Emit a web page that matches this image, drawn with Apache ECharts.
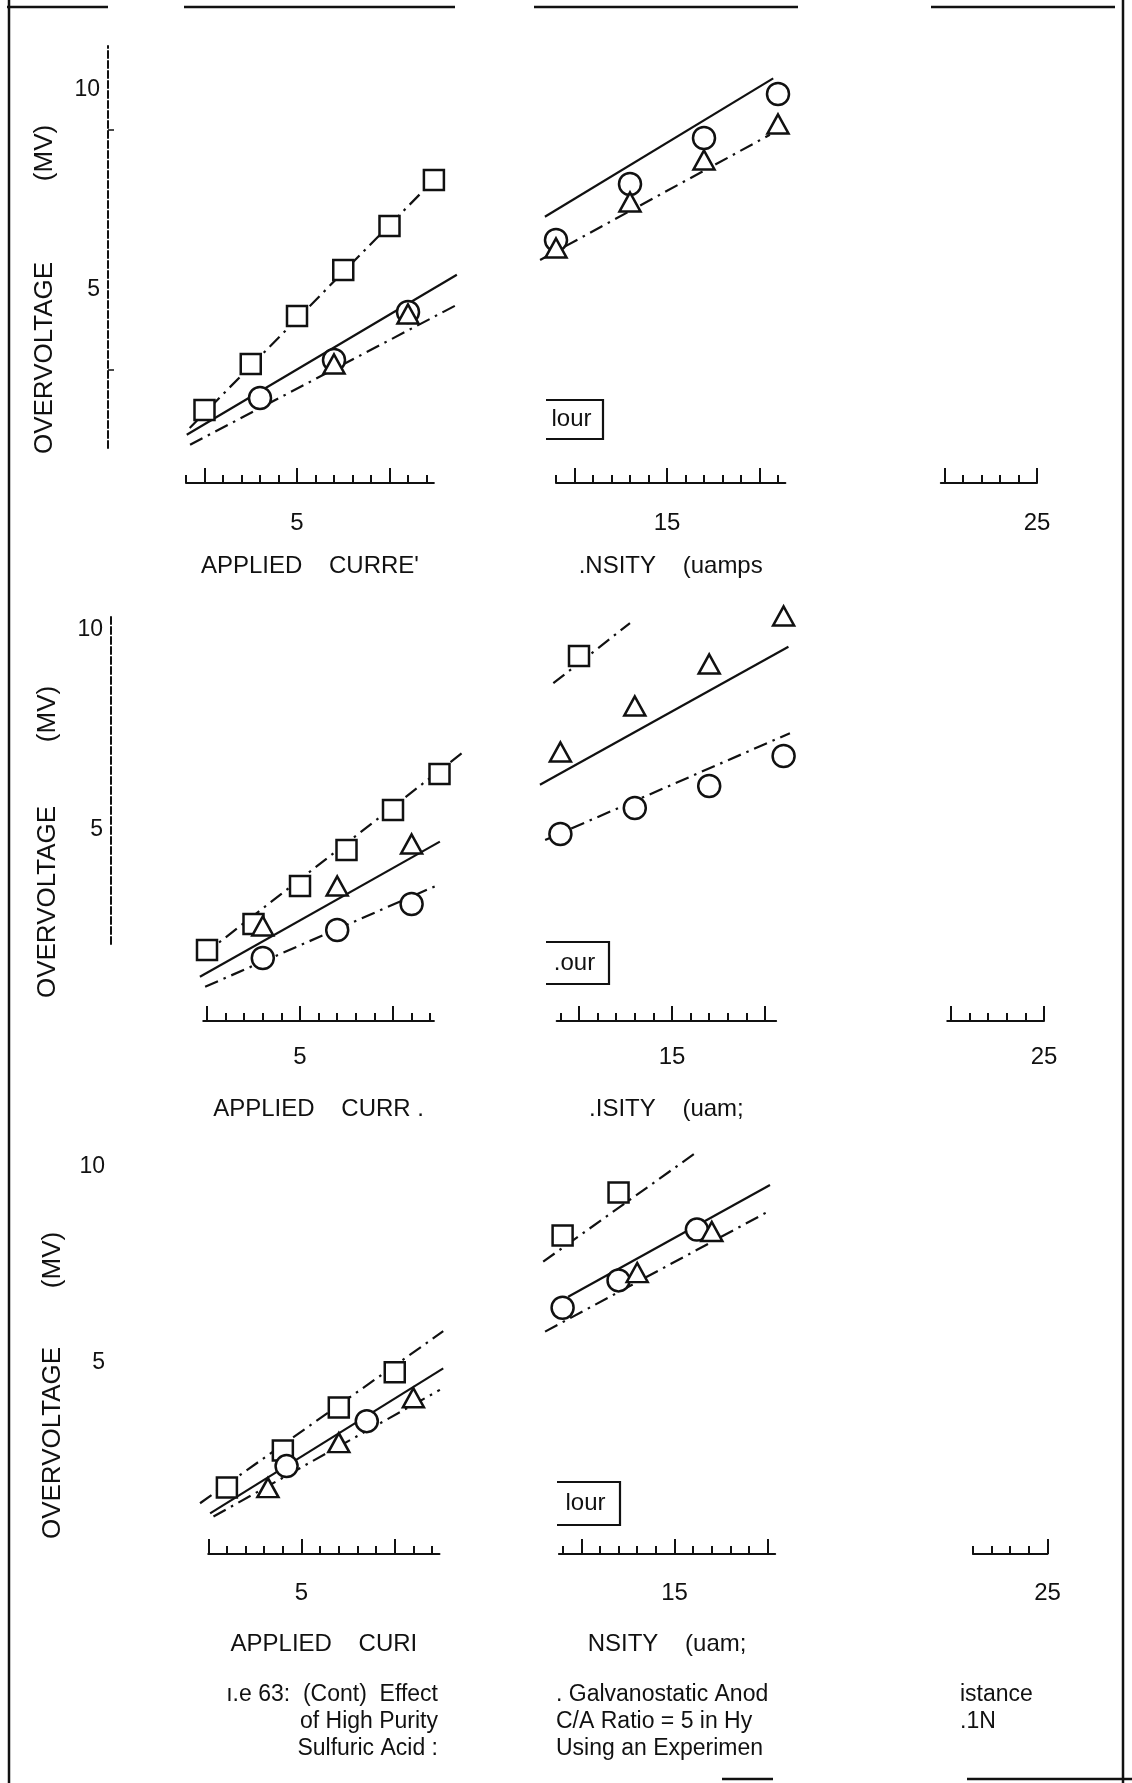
<!DOCTYPE html>
<html><head><meta charset="utf-8">
<script src="https://cdn.jsdelivr.net/npm/echarts@6/dist/echarts.min.js"></script>
<style>html,body{margin:0;padding:0;background:#fff}#c{width:1132px;height:1783px}</style>
</head><body><div id="c"></div>
<script>
// ---------------- DATA ----------------
// Panel 1
const p1SquareX = [2.5, 3.75, 5, 6.25, 7.5, 8.7];
const p1SquareY = [2.0, 3.15, 4.35, 5.5, 6.6, 7.75];
const p1CircleX = [4, 6, 8, 12, 14, 16, 18];
const p1CircleY = [2.3, 3.25, 4.45, 6.25, 7.65, 8.8, 9.9];
const p1TriangleX = [6, 8, 12, 14, 16, 18];
const p1TriangleY = [3.15, 4.4, 6.05, 7.2, 8.25, 9.15];
const p1SquareFit = [[[2.1, 1.55], [8.7, 7.75]]];
const p1SolidFit = [[[2.02, 1.38], [9.32, 5.38]], [[11.7, 6.83], [17.87, 10.29]]];
const p1DashFit = [[[2.11, 1.13], [9.32, 4.63]], [[11.57, 5.75], [17.78, 8.88]]];
// Panel 2
const p2SquareX = [2.5, 3.75, 5, 6.25, 7.5, 8.75, 12.5];
const p2SquareY = [2.0, 2.65, 3.6, 4.5, 5.5, 6.4, 9.35];
const p2CircleX = [4, 6, 8, 12, 14, 16, 18];
const p2CircleY = [1.8, 2.5, 3.15, 4.9, 5.55, 6.1, 6.85];
const p2TriangleX = [4, 6, 8, 12, 14, 16, 18];
const p2TriangleY = [2.6, 3.6, 4.65, 6.95, 8.1, 9.15, 10.35];
const p2SquareFit = [[[2.4, 1.88], [9.35, 6.92]], [[11.81, 8.67], [13.87, 10.17]]];
const p2SolidFit = [[[2.31, 1.33], [8.76, 4.71]], [[11.45, 6.13], [18.13, 9.58]]];
const p2DashFit = [[[2.45, 1.08], [8.72, 3.63]], [[11.59, 4.75], [18.17, 7.42]]];
// Panel 3
const p3SquareX = [3, 4.5, 6, 7.5, 12, 13.5];
const p3SquareY = [1.8, 2.75, 3.85, 4.75, 8.25, 9.35];
const p3CircleX = [4.6, 6.75, 12, 13.5, 15.6];
const p3CircleY = [2.35, 3.5, 6.4, 7.1, 8.4];
const p3TriangleX = [4.1, 6, 8, 14, 16];
const p3TriangleY = [1.8, 2.95, 4.1, 7.3, 8.35];
const p3SquareFit = [[[2.28, 1.4], [8.8, 5.8]], [[11.48, 7.58], [15.55, 10.35]]];
const p3SolidFit = [[[2.55, 1.14], [8.8, 4.85]], [[12.15, 6.68], [17.56, 9.54]]];
const p3DashFit = [[[2.64, 1.06], [8.71, 4.3]], [[11.53, 5.79], [17.51, 8.86]]];

// Tick labels and texts
const xLabelValues = [[5], [15], [25]];
const yLabelValues = [5, 10];
const leftAxisNames = ["APPLIED    CURRE'", 'APPLIED    CURR .', 'APPLIED    CURI'];
const midAxisNames = ['.NSITY    (uamps', '.ISITY    (uam;', 'NSITY    (uam;'];
const boxTexts = ['lour', '.our', 'lour'];
const captionLeft = ['ı.e 63:  (Cont)  Effect', 'of High Purity', 'Sulfuric Acid :'];
const captionMid = ['. Galvanostatic Anod', 'C/A Ratio = 5 in Hy', 'Using an Experimen'];
const captionRight = ['istance', '.1N'];

// ---------------- LAYOUT ----------------
const FONT = '"Liberation Sans", Arial, sans-serif';
const INK = '#111';
const panels = [
  { x0: 112, sx: 37, y0: 490, sy: 40, base: 483, axisX: 108, yMin: 1.05, yMax: 11.1, yTicks: [3, 9], yLine: true,
    strips: [[2.0, 8.7], [12.0, 18.2], [22.4, 25.0]], labelMargin: 28, nameGap: 71,
    sq: [p1SquareX, p1SquareY], ci: [p1CircleX, p1CircleY], tr: [p1TriangleX, p1TriangleY],
    fits: [[p1SquareFit, true], [p1SolidFit, false], [p1DashFit, true]],
    titleX: 45, overC: 358, mvC: 153, box: [546, 400, 603, 439] },
  { x0: 114, sx: 37.2, y0: 1030, sy: 40, base: 1021, axisX: 111, yMin: 2.15, yMax: 10.4, yTicks: [], yLine: true,
    strips: [[2.4, 8.6], [11.9, 17.8], [22.4, 25.0]], labelMargin: 24, nameGap: 76,
    sq: [p2SquareX, p2SquareY], ci: [p2CircleX, p2CircleY], tr: [p2TriangleX, p2TriangleY],
    fits: [[p2SquareFit, true], [p2SolidFit, false], [p2DashFit, true]],
    titleX: 48, overC: 902, mvC: 714, box: [546, 942, 609, 984] },
  { x0: 115, sx: 37.3, y0: 1558, sy: 39.1, base: 1554, axisX: 113, yMin: 4, yMax: 10.5, yTicks: [], yLine: false,
    strips: [[2.5, 8.7], [11.9, 17.7], [23.0, 25.0]], labelMargin: 27, nameGap: 78,
    sq: [p3SquareX, p3SquareY], ci: [p3CircleX, p3CircleY], tr: [p3TriangleX, p3TriangleY],
    fits: [[p3SquareFit, true], [p3SolidFit, false], [p3DashFit, true]],
    titleX: 53, overC: 1443, mvC: 1260, box: [557, 1482, 620, 1525] }
];

const grid = [], xAxis = [], yAxis = [], series = [], graphic = [];
const G = (o) => Object.assign({ containLabel: false, outerBoundsMode: 'none' }, o);
const DASHDOT = [14, 6, 2.5, 6];

panels.forEach((p, pi) => {
  // data grid (x 0..25, y 0..11)
  const gi = grid.length;
  grid.push(G({ left: p.x0, top: p.y0 - 11 * p.sy, width: 25 * p.sx, height: 11 * p.sy }));
  const xi = xAxis.length; xAxis.push({ gridIndex: gi, type: 'value', min: 0, max: 25, show: false });
  const yi = yAxis.length; yAxis.push({ gridIndex: gi, type: 'value', min: 0, max: 11, show: false });

  p.fits.forEach(([segs, dashed]) => segs.forEach(seg => series.push({
    type: 'line', xAxisIndex: xi, yAxisIndex: yi, data: seg, symbol: 'none', silent: true, z: 2,
    lineStyle: { color: INK, width: 2.2, type: dashed ? DASHDOT : 'solid' }
  })));
  const pts = (XY, sym, size, z) => series.push({
    type: 'scatter', xAxisIndex: xi, yAxisIndex: yi, z: z,
    data: XY[0].map((x, i) => [x, XY[1][i]]), symbol: sym, symbolSize: size,
    itemStyle: { color: '#fff', borderColor: INK, borderWidth: 2.5, opacity: 1 }
  });
  pts(p.sq, 'rect', 20, 5);
  pts(p.ci, 'circle', 22, 6);
  pts(p.tr, 'triangle', [21, 19], 7);

  // y axis grid
  const gy = grid.length;
  grid.push(G({ left: p.axisX, top: p.y0 - p.yMax * p.sy, width: 10, height: (p.yMax - p.yMin) * p.sy }));
  xAxis.push({ gridIndex: gy, type: 'value', show: false });
  yAxis.push({ gridIndex: gy, type: 'value', min: p.yMin, max: p.yMax, position: 'left',
    axisLine: { show: p.yLine, lineStyle: { color: INK, width: 2, type: [7, 3] } },
    axisTick: { show: p.yTicks.length > 0, inside: true, length: 6, customValues: p.yTicks, lineStyle: { color: INK, width: 1.5 } },
    axisLabel: { customValues: yLabelValues.filter(v => v >= p.yMin && v <= p.yMax), formatter: v => String(v), margin: 8,
      fontSize: 23, color: INK, fontFamily: FONT },
    splitLine: { show: false } });

  // x axis strips (surviving fragments of the axis)
  p.strips.forEach((s, si) => {
    const g = grid.length;
    grid.push(G({ left: p.x0 + s[0] * p.sx, width: (s[1] - s[0]) * p.sx, top: p.base - 20, height: 20 }));
    yAxis.push({ gridIndex: g, type: 'value', show: false });
    const minor = [], major = [];
    for (let k = Math.ceil(s[0] * 2 - 1e-9); k <= Math.floor(s[1] * 2 + 1e-9); k++) {
      const v = k / 2;
      (k % 5 === 0 ? major : minor).push(v);
    }
    const name = si === 0 ? leftAxisNames[pi] : (si === 1 ? midAxisNames[pi] : '');
    xAxis.push({ gridIndex: g, type: 'value', min: s[0], max: s[1], position: 'bottom', offset: 0,
      axisLine: { show: true, lineStyle: { color: INK, width: 2 } },
      axisTick: { show: true, inside: true, length: 8, customValues: minor, lineStyle: { color: INK, width: 2 } },
      axisLabel: { show: false }, splitLine: { show: false },
      name: name, nameLocation: 'middle', nameGap: p.nameGap,
      nameTextStyle: { fontSize: 24, color: INK, fontFamily: FONT } });
    xAxis.push({ gridIndex: g, type: 'value', min: s[0], max: s[1], position: 'bottom', offset: 0,
      axisLine: { show: false },
      axisTick: { show: true, inside: true, length: 15, customValues: major, lineStyle: { color: INK, width: 2 } },
      axisLabel: { customValues: xLabelValues[si], formatter: v => String(v), margin: p.labelMargin,
        fontSize: 24, color: INK, fontFamily: FONT },
      splitLine: { show: false } });
  });

  // y axis title
  graphic.push({ type: 'text', x: p.titleX, y: p.overC, rotation: Math.PI / 2,
    style: { text: 'OVERVOLTAGE', font: '26px ' + FONT, fill: INK, align: 'center', verticalAlign: 'middle' } });
  graphic.push({ type: 'text', x: p.titleX, y: p.mvC, rotation: Math.PI / 2,
    style: { text: '(MV)', font: '26px ' + FONT, fill: INK, align: 'center', verticalAlign: 'middle' } });

  // fragment of the boxed "hour" label
  const b = p.box;
  graphic.push({ type: 'polyline', shape: { points: [[b[0], b[1]], [b[2], b[1]], [b[2], b[3]], [b[0], b[3]]] },
    style: { stroke: INK, lineWidth: 2.2, fill: null } });
  graphic.push({ type: 'text', x: (b[0] + b[2]) / 2 - 3, y: (b[1] + b[3]) / 2,
    style: { text: boxTexts[pi], font: '24px ' + FONT, fill: INK, align: 'center', verticalAlign: 'middle' } });
});

// caption
captionLeft.forEach((t, i) => graphic.push({ type: 'text', x: 438, y: 1695 + i * 27,
  style: { text: t, font: '23px ' + FONT, fill: INK, align: 'right', verticalAlign: 'middle' } }));
captionMid.forEach((t, i) => graphic.push({ type: 'text', x: 556, y: 1695 + i * 27,
  style: { text: t, font: '23px ' + FONT, fill: INK, align: 'left', verticalAlign: 'middle' } }));
captionRight.forEach((t, i) => graphic.push({ type: 'text', x: 960, y: 1695 + i * 27,
  style: { text: t, font: '23px ' + FONT, fill: INK, align: 'left', verticalAlign: 'middle' } }));

// page frame fragments
const frameH = [[7, 108, 7], [184, 455, 7], [534, 798, 7], [931, 1115, 7], [722, 773, 1779], [967, 1132, 1779]];
frameH.forEach(f => graphic.push({ type: 'line', shape: { x1: f[0], y1: f[2], x2: f[1], y2: f[2] }, style: { stroke: INK, lineWidth: 2.5 } }));
graphic.push({ type: 'line', shape: { x1: 9, y1: 0, x2: 9, y2: 1783 }, style: { stroke: INK, lineWidth: 2.5 } });
graphic.push({ type: 'line', shape: { x1: 1123, y1: 0, x2: 1123, y2: 1783 }, style: { stroke: INK, lineWidth: 2.5 } });

const chart = echarts.init(document.getElementById('c'), null, { renderer: 'canvas' });
chart.setOption({ backgroundColor: '#fff', animation: false, grid, xAxis, yAxis, series, graphic });
</script></body></html>
